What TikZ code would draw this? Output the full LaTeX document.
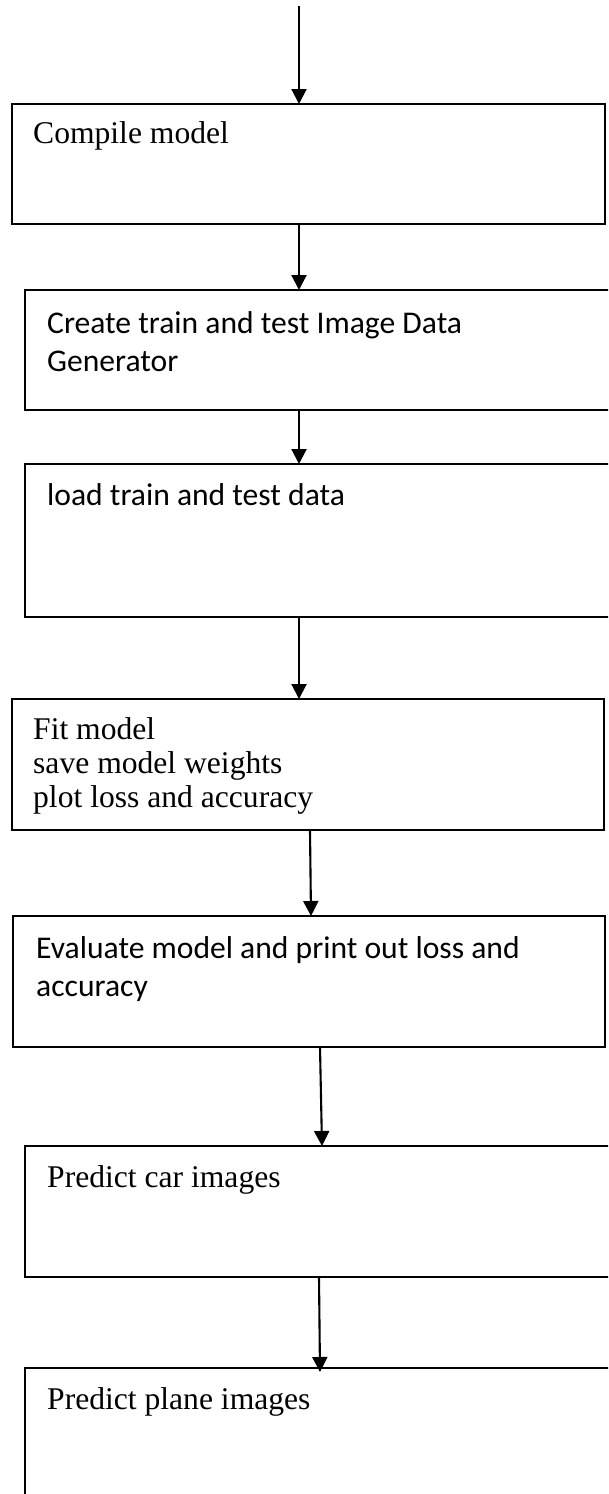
\documentclass[tikz,border=0pt]{standalone}
\usepackage{fontspec}
\setmainfont{Liberation Serif}
\newfontfamily\calibri{Carlito}
\usetikzlibrary{arrows.meta}
\begin{document}
\begin{tikzpicture}[x=1pt,y=-1pt,
  box/.style={draw, line width=2.1pt, rectangle, inner sep=0pt, outer sep=0pt, anchor=north west},
  serif/.style={anchor=base west, inner sep=0pt, align=left, font=\fontsize{31.6}{34}\selectfont},
  sans/.style={anchor=base west, inner sep=0pt, align=left, font=\calibri\fontsize{31.6}{38}\selectfont},
  arr/.style={line width=2.1pt, -{Triangle[width=15pt,length=15pt]}}]
\useasboundingbox (0,0) rectangle (608,1494);
\clip (0,0) rectangle (608,1494);
\fill[white] (0,0) rectangle (608,1494);
% boxes
\node[box, minimum width=593pt, minimum height=120pt] (b1) at (12,104) {};
\node[box, minimum width=590pt, minimum height=120pt] (b2) at (25,290) {};
\node[box, minimum width=590pt, minimum height=153pt] (b3) at (25,464) {};
\node[box, minimum width=592pt, minimum height=131pt] (b4) at (12,699) {};
\node[box, minimum width=592pt, minimum height=131pt] (b5) at (13,916) {};
\node[box, minimum width=590pt, minimum height=131pt] (b6) at (25,1146) {};
\node[box, minimum width=590pt, minimum height=140pt] (b7) at (25,1368) {};
% texts (base anchor = baseline of the last line)
\node[serif] (t1) at (33,143) {Compile model};
\node[sans]  (t2) at (47,371) {Create train and test Image Data\\Generator};
\node[sans]  (t3) at (47,505) {load train and test data};
\node[serif] (t4) at (33,807) {Fit model\\save model weights\\plot loss and accuracy};
\node[sans]  (t5) at (36,996) {Evaluate model and print out loss and\\accuracy};
\node[serif] (t6) at (47,1187) {Predict car images};
\node[serif] (t7) at (47,1409) {Predict plane images};
% connectors
\coordinate (s0) at (299,6);
\draw[arr] (s0) -- (s0 |- b1.north);
\draw[arr] (b1.south -| s0) -- (b2.north -| s0);
\draw[arr] (b2.south -| s0) -- (b3.north -| s0);
\draw[arr] (b3.south -| s0) -- (b4.north -| s0);
\draw[arr] ([xshift=2pt]b4.south) -- ([xshift=2pt]b5.north);
\draw[arr] ([xshift=11pt]b5.south) -- ([xshift=2pt]b6.north);
\draw[arr] ([xshift=-1pt]b6.south) -- ([shift={(0pt,-4pt)}]b7.north);
\end{tikzpicture}
\end{document}
